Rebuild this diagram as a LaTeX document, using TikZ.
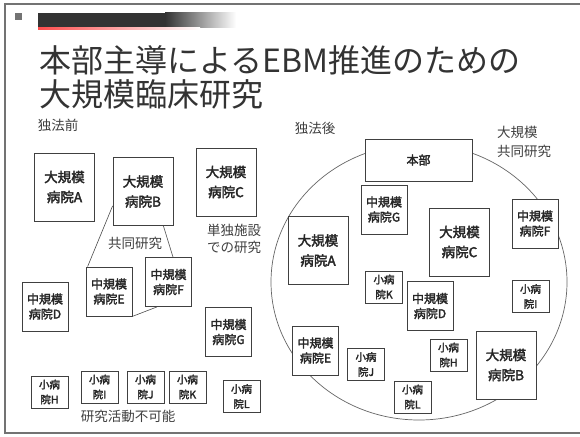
\documentclass[tikz,border=0pt]{standalone}
\usepackage{fontspec}
\newfontfamily\jp{Noto Sans CJK JP}
\newfontfamily\jpb[FakeBold=2.5]{Noto Sans CJK JP}
\usetikzlibrary{calc}
\begin{document}
\begin{tikzpicture}[x=1pt,y=-1pt,
  box/.style={draw=black!75, line width=0.8pt, fill=white, inner sep=0pt, align=center, text=black!85},
  bigbox/.style={box, minimum width=60pt, minimum height=68pt, font=\jpb\fontsize{13.5}{20}\selectfont},
  midbox/.style={box, minimum width=46pt, minimum height=49pt, font=\jpb\fontsize{12}{15}\selectfont},
  smallbox/.style={box, minimum width=37pt, minimum height=32pt, font=\jpb\fontsize{10.5}{15}\selectfont},
  lbl/.style={inner sep=0pt, text=black!75, font=\jp\fontsize{13.5}{17}\selectfont, align=center},
  link/.style={draw=black!70, line width=0.6pt},
  frame/.style={draw=black!55, line width=1.5pt}]
\useasboundingbox (0,0) rectangle (580,436);
\fill[white] (0,0) rectangle (580,436);
% slide frame
\coordinate (f1) at (580,4);
\coordinate (f2) at (5,4);
\coordinate (f3) at (5,433);
\coordinate (f4) at (580,433);
\draw[frame] (f1) -- (f2) -- (f3) -- (f4);
% header decoration
\fill[black!55] (15,13) rectangle (22,20);
\fill[black!80] (38,13) rectangle (165,28);
\shade[left color=black!80, right color=white] (165,13) rectangle (236,28);
\shade[left color=red!70, right color=white] (38,28) rectangle (200,29.2);
% title
\node[anchor=west, inner sep=0pt, text=black!80, font=\jp\fontsize{32}{34}\selectfont] (t1) at (39,60) {本部主導によるEBM推進のための};
\node[anchor=west, inner sep=0pt, text=black!80, font=\jp\fontsize{32}{34}\selectfont] (t2) at (39,94) {大規模臨床研究};
% ---------- left: before ----------
\node[lbl] (before) at (58,125) {独法前};
\node[bigbox] (la) at (64.5,187) {大規模\\病院A};
\node[bigbox] (lb) at (143,191.5) {大規模\\病院B};
\node[bigbox] (lc) at (226,182) {大規模\\病院C};
\node[midbox] (le) at (109,291.5) {中規模\\病院E};
\node[midbox] (lf) at (168.5,282) {中規模\\病院F};
\node[midbox] (ld) at (45,306.5) {中規模\\病院D};
\node[midbox] (lg) at (228.5,332) {中規模\\病院G};
\node[smallbox] (lh) at (49.5,392) {小病\\院H};
\node[smallbox] (li) at (99.5,387) {小病\\院I};
\node[smallbox] (lj) at (145.5,387) {小病\\院J};
\node[smallbox] (lk) at (187.5,387) {小病\\院K};
\node[smallbox] (ll) at (241.5,396.5) {小病\\院L};
\draw[link] ([yshift=20pt]lb.south west) -- ([xshift=2pt]le.north west);
\draw[link] ([xshift=-10pt]lb.south east) -- ([xshift=4.5pt]lf.north);
\draw[link] (le.south east) -- ([xshift=-11.5pt]lf.south);
\node[lbl] (joint) at (135,243) {共同研究};
\node[lbl] (single) at (234,239) {単独施設\\での研究};
\node[lbl] (noresearch) at (128,416) {研究活動不可能};
% ---------- right: after ----------
\node[lbl] (after) at (315,128) {独法後};
\node[lbl, anchor=west, align=left, font=\jp\fontsize{13.5}{19}\selectfont] (large) at (497,142) {大規模\\共同研究};
\draw[black!60, line width=0.7pt] (419,282) ellipse [x radius=148, y radius=138];
\node[box, minimum width=107pt, minimum height=42pt, font=\jpb\fontsize{12}{15}\selectfont] (hq) at (418.5,160) {本部};
\node[midbox] (rg) at (384,209.5) {中規模\\病院G};
\node[bigbox] (ra) at (318,250.5) {大規模\\病院A};
\node[bigbox] (rc) at (459.5,242) {大規模\\病院C};
\node[midbox] (rf) at (535,223.5) {中規模\\病院F};
\node[smallbox] (rk) at (384,287) {小病\\院K};
\node[midbox] (rd) at (430,306) {中規模\\病院D};
\node[smallbox] (ri) at (530.5,296.5) {小病\\院I};
\node[midbox] (re) at (315.5,350.5) {中規模\\病院E};
\node[smallbox] (rj) at (366,364.5) {小病\\院J};
\node[smallbox] (rl) at (412.5,397) {小病\\院L};
\node[smallbox] (rh) at (448.5,355) {小病\\院H};
\node[bigbox] (rb) at (506,365) {大規模\\病院B};
\end{tikzpicture}
\end{document}
